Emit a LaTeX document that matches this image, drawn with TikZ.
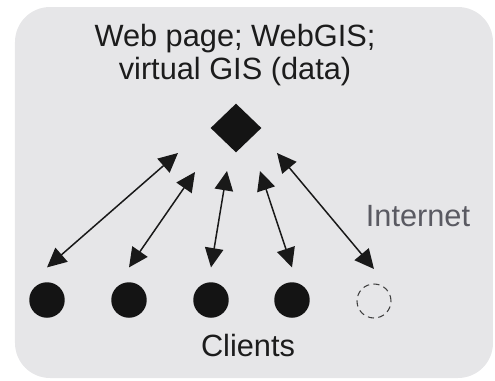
\documentclass[tikz,border=0pt]{standalone}
\usepackage{fontspec}
\setmainfont{Liberation Sans}
\usetikzlibrary{arrows.meta, shapes.geometric, positioning}
\definecolor{panel}{HTML}{E6E6E8}
\definecolor{txt}{HTML}{1C1C1C}
\definecolor{nettxt}{HTML}{5A5A62}

\begin{document}
\begin{tikzpicture}[x=0.02cm, y=-0.02cm,
    client/.style={circle, fill=black!92, minimum size=0.71cm, inner sep=0pt},
    offline/.style={circle, draw=black!75, dash pattern=on 3.5pt off 2.5pt, line width=0.6pt, minimum size=0.68cm, inner sep=0pt},
    server/.style={diamond, fill=black!92, minimum width=1.02cm, minimum height=0.98cm, inner sep=0pt},
    link/.style={{Triangle[length=11pt, width=10.5pt]}-{Triangle[length=11pt, width=10.5pt]}, line width=0.85pt, black!90},
    lbl/.style={font=\fontsize{17.5}{19}\selectfont, text=txt, inner sep=0pt}]

  \useasboundingbox (0,0) rectangle (495,380);
  \fill[panel, rounded corners=0.7cm] (15,7) rectangle (493,378);

  % server and its label
  \node[lbl, align=center] (title) at (235,55) {Web page; WebGIS;\\virtual GIS (data)};
  \node[server] (web) at (236,128) {};

  % clients
  \node[client] (c1) at (47,300) {};
  \node[client] (c2) at (129,300) {};
  \node[client] (c3) at (211,300) {};
  \node[client] (c4) at (292,300) {};
  \node[offline] (c5) at (374,301) {};

  \node[lbl] (clients) at (248,346) {Clients};
  \node[lbl, text=nettxt] (net) at (418,216) {Internet};

  % arrow ends
  \coordinate (t1) at (178,153);
  \coordinate (t2) at (195,172);
  \coordinate (t3) at (227,171);
  \coordinate (t4) at (260,171);
  \coordinate (t5) at (277,153);
  \foreach \i in {1,...,5}
    \coordinate[above=0.29cm of c\i] (b\i);

  \foreach \i in {1,...,5}
    \draw[link] (b\i) -- (t\i);
\end{tikzpicture}
\end{document}
